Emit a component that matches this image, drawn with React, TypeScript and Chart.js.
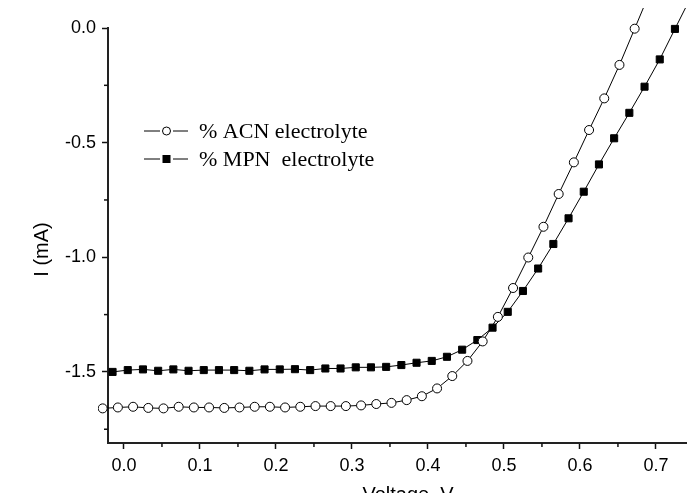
import React, { useEffect, useRef } from 'react';
import { Chart, registerables } from 'chart.js';

Chart.register(...registerables);

// ---- data ----
const acnVoltage = [
  -0.028, -0.008, 0.012, 0.032, 0.052, 0.072, 0.092, 0.112, 0.132, 0.152,
  0.172, 0.192, 0.212, 0.232, 0.252, 0.272, 0.292, 0.312, 0.332, 0.352,
  0.372, 0.392, 0.412, 0.432, 0.452, 0.472, 0.492, 0.512, 0.532, 0.552,
  0.572, 0.592, 0.612, 0.632, 0.652, 0.672, 0.692,
];
const acnCurrent = [
  -1.659, -1.655, -1.652, -1.657, -1.659, -1.652, -1.655, -1.655, -1.657, -1.655,
  -1.652, -1.652, -1.655, -1.652, -1.649, -1.649, -1.649, -1.646, -1.640, -1.635,
  -1.623, -1.606, -1.572, -1.518, -1.452, -1.367, -1.260, -1.134, -1.001, -0.867,
  -0.724, -0.586, -0.445, -0.307, -0.161, -0.003, 0.155,
];
const mpnVoltage = [
  -0.015, 0.005, 0.025, 0.045, 0.065, 0.085, 0.105, 0.125, 0.145, 0.165,
  0.185, 0.205, 0.225, 0.245, 0.265, 0.285, 0.305, 0.325, 0.345, 0.365,
  0.385, 0.405, 0.425, 0.445, 0.465, 0.485, 0.505, 0.525, 0.545, 0.565,
  0.585, 0.605, 0.625, 0.645, 0.665, 0.685, 0.705, 0.725, 0.745,
];
const mpnCurrent = [
  -1.500, -1.492, -1.489, -1.495, -1.489, -1.495, -1.492, -1.492, -1.492, -1.495,
  -1.489, -1.489, -1.488, -1.492, -1.485, -1.485, -1.480, -1.480, -1.478, -1.470,
  -1.460, -1.452, -1.434, -1.403, -1.361, -1.307, -1.238, -1.147, -1.049, -0.942,
  -0.830, -0.714, -0.595, -0.481, -0.370, -0.256, -0.137, -0.004, 0.128,
];
const seriesLabels = ['% ACN electrolyte', '% MPN  electrolyte'];
const xMajorTicks = [0, 0.1, 0.2, 0.3, 0.4, 0.5, 0.6, 0.7];
const xMinorTicks = [0.05, 0.15, 0.25, 0.35, 0.45, 0.55, 0.65, 0.75];
const yMajorTicks = [0, -0.5, -1.0, -1.5];
const yMinorTicks = [-0.25, -0.75, -1.25, -1.75];
const xTitle = 'Voltage, V';
const yTitle = 'I (mA)';
const xRange = [-0.021, 0.7685];
const yRange = [-1.81, 0];

const SANS = '"Liberation Sans", Arial, sans-serif';
const SERIF = '"Liberation Serif", "Times New Roman", serif';

const minorTicksPlugin = {
  id: 'minorTicks',
  afterDraw(chart: any) {
    const ctx = chart.ctx;
    const xs = chart.scales.x;
    const ys = chart.scales.y;
    const { left, bottom, top, right } = chart.chartArea;
    ctx.save();
    ctx.strokeStyle = '#111';
    ctx.lineWidth = 1.5;
    xMinorTicks.forEach((v) => {
      const px = xs.getPixelForValue(v);
      if (px < left || px > right) return;
      ctx.beginPath();
      ctx.moveTo(px, bottom);
      ctx.lineTo(px, bottom + 4);
      ctx.stroke();
    });
    yMinorTicks.forEach((v) => {
      const py = ys.getPixelForValue(v);
      if (py < top || py > bottom) return;
      ctx.beginPath();
      ctx.moveTo(left, py);
      ctx.lineTo(left - 4, py);
      ctx.stroke();
    });
    ctx.restore();
  },
};

const yTitlePlugin = {
  id: 'yTitleOffset',
  afterDraw(chart: any) {
    const ctx = chart.ctx;
    const { left, top, bottom } = chart.chartArea;
    ctx.save();
    ctx.translate(left - 66, (top + bottom) / 2 + 14);
    ctx.rotate(-Math.PI / 2);
    ctx.font = `20px ${SANS}`;
    ctx.fillStyle = '#000';
    ctx.textAlign = 'center';
    ctx.textBaseline = 'middle';
    ctx.fillText(yTitle, 0, 0);
    ctx.restore();
  },
};

const legendPlugin = {
  id: 'originLegend',
  afterDraw(chart: any) {
    const ctx = chart.ctx;
    const { left, top } = chart.chartArea;
    ctx.save();
    chart.data.datasets.forEach((ds: any, i: number) => {
      const y = top + 103 + i * 28;
      const x0 = left + 36;
      ctx.strokeStyle = '#000';
      ctx.lineWidth = 1;
      ctx.beginPath();
      ctx.moveTo(x0, y);
      ctx.lineTo(x0 + 16, y);
      ctx.moveTo(x0 + 29, y);
      ctx.lineTo(x0 + 44, y);
      ctx.stroke();
      const mx = x0 + 22.5;
      if (ds.pointStyle === 'rect') {
        ctx.fillStyle = ds.pointBackgroundColor;
        ctx.fillRect(mx - 4, y - 4, 8, 8);
      } else {
        ctx.beginPath();
        ctx.arc(mx, y, 4, 0, Math.PI * 2);
        ctx.fillStyle = ds.pointBackgroundColor;
        ctx.fill();
        ctx.stroke();
      }
      ctx.fillStyle = '#000';
      ctx.font = `22px ${SERIF}`;
      ctx.textAlign = 'left';
      ctx.textBaseline = 'middle';
      ctx.fillText(ds.label, x0 + 55, y + 1);
    });
    ctx.restore();
  },
};

export default function App() {
  const canvasRef = useRef<HTMLCanvasElement | null>(null);

  useEffect(() => {
    const canvas = canvasRef.current;
    if (!canvas) return;
    const clip = { left: 10, top: 20, right: 0, bottom: 0 };
    const chart = new Chart(canvas, {
      type: 'line',
      data: {
        datasets: [
          {
            label: seriesLabels[0],
            data: acnVoltage.map((v, i) => ({ x: v, y: acnCurrent[i] })),
            borderColor: '#000',
            borderWidth: 1,
            pointStyle: 'circle',
            pointRadius: 4.5,
            pointBorderWidth: 1,
            pointBorderColor: '#000',
            pointBackgroundColor: '#fff',
            tension: 0,
            clip,
          },
          {
            label: seriesLabels[1],
            data: mpnVoltage.map((v, i) => ({ x: v, y: mpnCurrent[i] })),
            borderColor: '#000',
            borderWidth: 1,
            pointStyle: 'rect',
            pointRadius: 5,
            pointBorderWidth: 1,
            pointBorderColor: '#000',
            pointBackgroundColor: '#000',
            tension: 0,
            clip,
          },
        ] as any,
      },
      options: {
        responsive: false,
        animation: false,
        devicePixelRatio: 1,
        layout: { padding: { top: 28, right: 12, bottom: 0, left: 0 } },
        plugins: { legend: { display: false }, tooltip: { enabled: false } },
        scales: {
          x: {
            type: 'linear',
            min: xRange[0],
            max: xRange[1],
            afterBuildTicks: (s: any) => {
              s.ticks = xMajorTicks.map((v) => ({ value: v }));
            },
            afterFit: (s: any) => {
              s.height = 77;
            },
            grid: {
              display: true,
              drawOnChartArea: false,
              drawTicks: true,
              tickLength: 6,
              tickWidth: 1.5,
              tickColor: '#111',
            },
            border: { display: true, color: '#222', width: 2 },
            ticks: {
              color: '#000',
              font: { family: SANS, size: 18 },
              padding: 6,
              autoSkip: false,
              maxRotation: 0,
              callback: (v: any) => Number(v).toFixed(1),
            },
            title: {
              display: true,
              text: xTitle,
              color: '#000',
              font: { family: SANS, size: 20 },
              padding: { top: 0, bottom: 13 },
            },
          },
          y: {
            type: 'linear',
            min: yRange[0],
            max: yRange[1],
            afterBuildTicks: (s: any) => {
              s.ticks = yMajorTicks.map((v) => ({ value: v }));
            },
            afterFit: (s: any) => {
              s.width = 108;
            },
            grid: {
              display: true,
              drawOnChartArea: false,
              drawTicks: true,
              tickLength: 6,
              tickWidth: 1.5,
              tickColor: '#111',
            },
            border: { display: true, color: '#222', width: 2 },
            ticks: {
              color: '#000',
              font: { family: SANS, size: 18 },
              padding: 6,
              autoSkip: false,
              callback: (v: any) => Number(v).toFixed(1),
            },
            title: { display: false },
          },
        },
      } as any,
      plugins: [minorTicksPlugin, yTitlePlugin, legendPlugin],
    });
    return () => chart.destroy();
  }, []);

  return (
    <div
      style={{
        position: 'fixed',
        left: 0,
        top: 0,
        width: 687,
        height: 493,
        overflow: 'hidden',
        background: '#fff',
      }}
    >
      <canvas ref={canvasRef} width={720} height={520} style={{ display: 'block' }} />
    </div>
  );
}
